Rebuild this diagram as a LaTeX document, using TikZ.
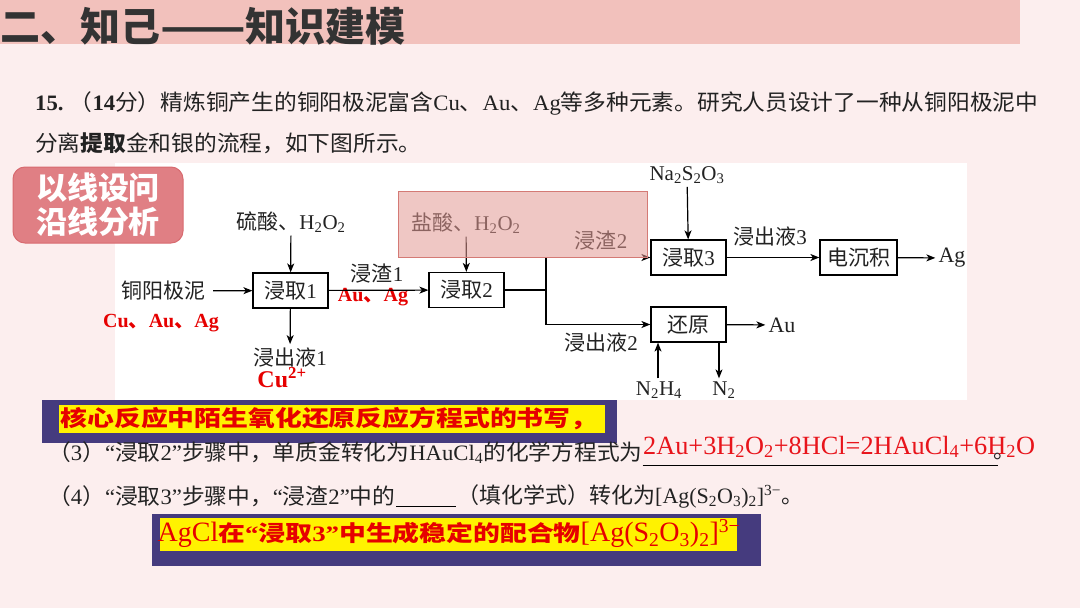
\documentclass[tikz,border=0pt]{standalone}
\usepackage{fontspec}
\setmainfont{Noto Sans CJK SC}
\newfontfamily\tm{Liberation Serif}
\usetikzlibrary{arrows.meta}
\definecolor{bg}{HTML}{FCEEEE}
\definecolor{bar}{HTML}{F2C1BC}
\definecolor{titlec}{HTML}{333333}
\definecolor{tagc}{HTML}{E07F84}
\definecolor{tagd}{HTML}{D86B70}
\definecolor{ovl}{HTML}{E39A94}
\definecolor{ovld}{HTML}{D47A75}
\definecolor{navy}{HTML}{453B7E}
\definecolor{ansred}{HTML}{E8141B}
\definecolor{hired}{HTML}{E60000}
\definecolor{txt}{HTML}{222222}
\newcommand\fsz[1]{\fontsize{#1}{#1}\selectfont}
\newcommand\sbs[1]{\textsubscript{#1}}
\newcommand\sps[1]{\textsuperscript{#1}}
\newcommand\hl[1]{\scalebox{1.22}[1]{#1}}
\newcommand\wq[1]{\scalebox{1.033}[1]{#1}}
\begin{document}
\begin{tikzpicture}[x=1pt,y=-1pt,
  stepbox/.style={draw=black, line width=1.2pt, fill=white, minimum width=75pt, minimum height=35pt, inner sep=0pt, font=\fsz{21}, text=txt},
  lbl/.style={inner sep=3pt, font=\fsz{21}, text=txt},
  redl/.style={inner sep=0pt, font=\fsz{20}\tm\bfseries, text=hired},
  arr/.style={-{Stealth[length=9pt,width=7pt,inset=2.5pt]}, line width=1.2pt, draw=black},
  line/.style={line width=1.2pt, draw=black},
  qtext/.style={anchor=west, inner sep=0pt, font=\fsz{22}, text=txt}]
\useasboundingbox (0,0) rectangle (1080,608);
\fill[bg] (0,0) rectangle (1080,608);
% title bar
\fill[bar] (0,0) rectangle (1020,44);
\node[anchor=west, inner sep=0pt, font=\fsz{40}\bfseries, text=titlec] (title) at (0,26) {二、知己\scalebox{1.25}[1]{——}知识建模};
% question
\node[qtext] (q1) at (35,103) {\wq{{\tm\bfseries 15.}\hspace{6pt}（{\tm\bfseries 14}分）精炼铜产生的铜阳极泥富含{\tm Cu}、{\tm Au}、{\tm Ag}等多种元素。研究人员设计了一种从铜阳极泥中}};
\node[qtext] (q2) at (35,143) {\wq{分离{\bfseries 提取}金和银的流程，如下图所示。}};
% flowchart area
\fill[white] (115,163) rectangle (967,400);
% tag box
\node[draw=tagd, line width=1pt, fill=tagc, rounded corners=12pt, minimum width=170pt, minimum height=76pt, inner sep=0pt, align=center, text=white, font=\fsz{31}\bfseries] (tag) at (98,205) {以线设问\\[3pt]沿线分析};
% boxes
\node[stepbox] (b1) at (290.5,290.5) {浸取{\tm 1}};
\node[stepbox] (b2) at (466.5,290) {浸取{\tm 2}};
\node[stepbox] (b3) at (688.5,257.5) {浸取{\tm 3}};
\node[stepbox, minimum width=77pt] (bd) at (858.5,257.5) {电沉积};
\node[stepbox] (bh) at (688.5,324.5) {还原};
% labels
\node[lbl] (mud) at (163,291) {铜阳极泥};
\node[redl] (cu) at (161,323) {Cu{\rmfamily 、}Au{\rmfamily 、}Ag};
\node[lbl] (acid1) at (291,222) {硫酸、{\tm H\sbs{2}O\sbs{2}}};
\node[lbl] (liq1) at (290,357) {浸出液{\tm 1}};
\node[redl, font=\fsz{24}\tm\bfseries] (cu2) at (282,378) {Cu\sps{2+}};
\node[lbl] (slag1) at (377,273) {浸渣{\tm 1}};
\node[redl] (auag) at (373,297) {Au{\rmfamily 、}Ag};
\node[lbl] (acid2) at (466,223) {盐酸、{\tm H\sbs{2}O\sbs{2}}};
\node[lbl] (slag2) at (601,240) {浸渣{\tm 2}};
\node[lbl, font=\fsz{21}\tm] (na) at (687,175) {Na\sbs{2}S\sbs{2}O\sbs{3}};
\node[lbl] (liq3) at (770,236) {浸出液{\tm 3}};
\node[lbl, font=\fsz{22}\tm] (ag) at (952,258) {Ag};
\node[lbl] (liq2) at (601,342) {浸出液{\tm 2}};
\node[lbl, font=\fsz{22}\tm] (au) at (782,325) {Au};
\node[lbl, font=\fsz{21}\tm] (n2h4) at (659,390) {N\sbs{2}H\sbs{4}};
\node[lbl, font=\fsz{21}\tm] (n2) at (724,390) {N\sbs{2}};
\coordinate (sp) at (546,290);
% connectors
\draw[arr, shorten <=5pt] (mud) -- (b1);
\draw[arr] (acid1) -- (b1);
\draw[arr] (b1) -- (liq1);
\draw[arr] (b1) -- (b2);
\draw[arr] (acid2) -- (b2);
\draw[line] (b2.east) -- (sp);
\draw[arr] (sp) |- (b3.west);
\draw[arr] (sp) |- (bh.west);
\draw[arr] (na) -- (b3);
\draw[arr] (b3) -- (bd);
\draw[arr] (bd) -- (ag);
\draw[arr] (bh) -- (au);
\draw[arr] (n2h4.north -| 658,0) -- (bh.south -| 658,0);
\draw[arr] (bh.south -| 719,0) -- (n2.north -| 719,0);
% overlay
\fill[ovl, opacity=0.55] (398,191) rectangle (647,257);
\draw[ovld, line width=0.8pt] (398,191) rectangle (647,257);
% highlight 1
\fill[navy] (42,400) rectangle (617,443);
\fill[yellow] (59,405) rectangle (605,433);
\node[inner sep=0pt, font=\fsz{22}\bfseries, text=hired] (h1) at (329,419) {\hl{核心反应中陌生氧化还原反应方程式的书写，}};
% question 3
\node[qtext] (q3) at (48,453) {\wq{（{\tm 3}）{\tm “}浸取{\tm 2”}步骤中，单质金转化为{\tm HAuCl\sbs{4}}的化学方程式为}};
\coordinate (ul3) at (998,465);
\draw[line width=1pt] (q3.east |- ul3) -- (ul3);
\node[inner sep=0pt, font=\fsz{22}, text=txt] (dot3) at (1004,456) {。};
\node[anchor=base west, inner sep=0pt, font=\fsz{26.3}\tm, text=ansred] (ans) at (643,454) {2Au+3H\sbs{2}O\sbs{2}+8HCl=2HAuCl\sbs{4}+6H\sbs{2}O};
% question 4
\node[qtext] (q4a) at (48,496) {\wq{（{\tm 4}）{\tm “}浸取{\tm 3”}步骤中，{\tm “}浸渣{\tm 2”}中的}};
\coordinate (ul4a) at (396,506);
\coordinate (ul4b) at (456,506);
\draw[line width=1pt] (ul4a) -- (ul4b);
\node[qtext] (q4b) at (457,496) {（填化学式）转化为{\tm [Ag(S\sbs{2}O\sbs{3})\sbs{2}]\sps{3−}}。};
% highlight 2
\fill[navy] (152,514) rectangle (761,566);
\fill[yellow] (160,518) rectangle (737,551);
\node[inner sep=0pt, text=hired, font=\fsz{22}\bfseries] (h2) at (449,534) {{\fsz{28}\tm\mdseries AgCl}\hl{在{\tm “}浸取{\tm 3”}中生成稳定的配合物}{\fsz{28}\tm\mdseries [Ag(S\sbs{2}O\sbs{3})\sbs{2}]\sps{3−}}};
\end{tikzpicture}
\end{document}
